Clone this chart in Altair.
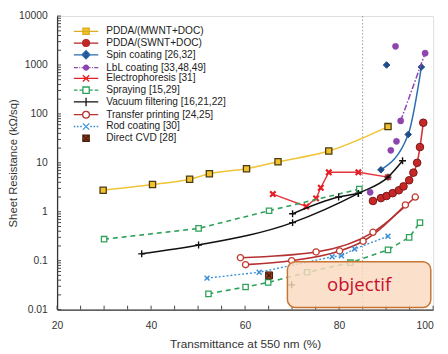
import altair as alt
import pandas as pd

# ---------------- data ----------------
series_names = [
    "PDDA/(MWNT+DOC)", "PDDA/(SWNT+DOC)", "Spin coating [26,32]",
    "LbL coating [33,48,49]", "Electrophoresis [31]", "Spraying [15,29]",
    "Vacuum filtering [16,21,22]", "Transfer printing [24,25]",
    "Rod coating [30]", "Direct CVD [28]",
]

mwnt_x = [29.8, 40.3, 48.2, 52.4, 60.3, 67.0, 77.8, 90.4]
mwnt_y = [2.75, 3.6, 4.6, 6.0, 7.6, 10.5, 17.4, 55]

swnt_x = [87.2, 88.9, 90.1, 91.4, 92.7, 93.7, 94.9, 95.8, 96.6, 97.2, 97.9]
swnt_y = [1.66, 1.9, 2.1, 2.4, 2.75, 3.3, 4.4, 6.3, 10, 21, 66]

spin_x = [88.9, 94.7, 97.5]
spin_y = [7.2, 38, 912]
spin_iso_x = [90.1]
spin_iso_y = [1000]

lbl_x = [93.1, 98.3]
lbl_y = [72, 1740]
lbl_iso_x = [92.0, 92.2, 91.0, 86.6]
lbl_iso_y = [2400, 27.5, 18, 2.5]

electro_x = [65.9, 73.0, 75.1, 76.1, 77.8, 84.1, 90.4]
electro_y = [2.3, 1.28, 1.88, 3.1, 6.4, 6.4, 5.1]

spray_a_x = [30.0, 50.1, 65.1, 84.3]
spray_a_y = [0.275, 0.457, 1.05, 2.9]
spray_b_x = [52.2, 60.1, 64.9, 73.2, 82.4, 90.4, 94.9, 97.2]
spray_b_y = [0.021, 0.029, 0.036, 0.058, 0.091, 0.166, 0.30, 0.60]

vac_a_x = [38.0, 50.1, 70.1, 84.1, 90.4, 93.5]
vac_a_y = [0.138, 0.209, 0.60, 2.37, 5.1, 11]
vac_b_x = [70.1, 79.9, 84.1]
vac_b_y = [0.91, 2.0, 2.37]
vac_iso_x = [69.9]
vac_iso_y = [0.032]

transfer_a_x = [59.0, 75.1, 87.2, 96.2]
transfer_a_y = [0.115, 0.151, 0.38, 2.0]
transfer_b_x = [60.1, 69.9, 80.1, 85.1, 94.1]
transfer_b_y = [0.083, 0.10, 0.158, 0.25, 1.38]

rod_x = [51.9, 63.0, 78.5, 80.5, 83.3, 90.4]
rod_y = [0.044, 0.058, 0.12, 0.126, 0.174, 0.316]

cvd_x = [65.1]
cvd_y = [0.050]

target_x = [85]
box_x = [69.0, 99.5]
box_y = [0.011, 0.095]
box_label = ["objectif"]

x_labels = [20, 40, 60, 80, 100]
y_labels = [0.01, 0.1, 1, 10, 100, 1000, 10000]
x_minor = [20, 25, 30, 35, 40, 45, 50, 55, 60, 65, 70, 75, 80, 85, 90, 95, 100]
y_minor = [m * 10.0 ** e for e in range(-2, 4) for m in range(1, 10)] + [10000]

# ---------------- table ----------------
rows = []
def add(name, group, linked, xs, ys):
    for a, b in zip(xs, ys):
        rows.append({"series": name, "group": group, "linked": linked, "x": a, "y": b})

add(series_names[0], "a", True, mwnt_x, mwnt_y)
add(series_names[1], "a", True, swnt_x, swnt_y)
add(series_names[2], "a", True, spin_x, spin_y)
add(series_names[2], "iso", False, spin_iso_x, spin_iso_y)
add(series_names[3], "a", True, lbl_x, lbl_y)
add(series_names[3], "iso", False, lbl_iso_x, lbl_iso_y)
add(series_names[4], "a", True, electro_x, electro_y)
add(series_names[5], "a", True, spray_a_x, spray_a_y)
add(series_names[5], "b", True, spray_b_x, spray_b_y)
add(series_names[6], "a", True, vac_a_x, vac_a_y)
add(series_names[6], "b", True, vac_b_x, vac_b_y)
add(series_names[6], "iso", False, vac_iso_x, vac_iso_y)
add(series_names[7], "a", True, transfer_a_x, transfer_a_y)
add(series_names[7], "b", True, transfer_b_x, transfer_b_y)
add(series_names[8], "a", True, rod_x, rod_y)
add(series_names[9], "iso", False, cvd_x, cvd_y)
df = pd.DataFrame(rows)

W, H = 383, 299
FONT = "Liberation Sans"

xscale = alt.Scale(domain=[20, 100], nice=False, zero=False)
yscale = alt.Scale(type="log", domain=[0.01, 10000], nice=False)
xaxis = alt.Axis(values=x_labels, title="Transmittance at 550 nm (%)", ticks=False, grid=False,
                 domainColor="#333", domainWidth=1.3, labelFont=FONT, labelFontSize=10.5,
                 labelColor="#333", labelPadding=11, titleFont=FONT, titleFontSize=12,
                 titleFontWeight="normal", titleColor="#333", titlePadding=8, labelFlush=False,
                 labelAlign=alt.ConditionalAxisLabelAlign(condition={"test": "datum.value >= 100", "value": "right"},
                                                          value="center"))
yaxis = alt.Axis(values=y_labels, title="Sheet Resistance (kΩ/sq)", ticks=False, grid=False,
                 domainColor="#333", domainWidth=1.3, labelFont=FONT, labelFontSize=10.5,
                 labelColor="#333", labelPadding=10, titleFont=FONT, titleFontSize=11.5,
                 titleFontWeight="normal", titleColor="#333", titleX=-39,
                 labelExpr="datum.value < 1 ? format(datum.value, '.2~f') : format(datum.value, 'd')",
                 labelFlush=False)

def X(f):
    return alt.X(f, type="quantitative", scale=xscale, axis=xaxis)

def Y(f):
    return alt.Y(f, type="quantitative", scale=yscale, axis=yaxis)

PLUS = "M-1,0H1M0,-1V1"
XSHAPE = "M-1,-1L1,1M-1,1L1,-1"

styles = {
    series_names[0]: dict(line=dict(stroke="#efc436", strokeWidth=1.6, interpolate="monotone"),
                          pt=dict(shape="square", size=40, fill="#f2c12e", stroke="#4a3a10", strokeWidth=1.3)),
    series_names[1]: dict(line=dict(stroke="#d63031", strokeWidth=1.6, interpolate="monotone"),
                          pt=dict(shape="circle", size=60, fill="#c62828", stroke="#7b1515", strokeWidth=1)),
    series_names[2]: dict(line=dict(stroke="#2d6bb0", strokeWidth=1.5, interpolate="monotone"),
                          pt=dict(shape="diamond", size=45, fill="#1f4e8c", stroke="#1f4e8c", strokeWidth=1)),
    series_names[3]: dict(line=dict(stroke="#8e44ad", strokeWidth=1.5, strokeDash=[6, 2, 1.5, 2]),
                          pt=dict(shape="circle", size=40, fill="#8e44ad", stroke="#8e44ad", strokeWidth=0.5)),
    series_names[4]: dict(line=dict(stroke="#e2343a", strokeWidth=1.4),
                          pt=dict(shape=XSHAPE, size=30, fill="transparent", stroke="#e41f26", strokeWidth=2.2)),
    series_names[5]: dict(line=dict(stroke="#2ea25a", strokeWidth=1.6, strokeDash=[5, 4]),
                          pt=dict(shape="square", size=30, fill="white", stroke="#2ea25a", strokeWidth=1.3)),
    series_names[6]: dict(line=dict(stroke="#111111", strokeWidth=1.5, interpolate="monotone"),
                          pt=dict(shape=PLUS, size=50, fill="transparent", stroke="#111111", strokeWidth=1.4)),
    series_names[7]: dict(line=dict(stroke="#b53030", strokeWidth=1.6, interpolate="monotone"),
                          pt=dict(shape="circle", size=40, fill="white", stroke="#c0392b", strokeWidth=1.3)),
    series_names[8]: dict(line=dict(stroke="#3b8fd8", strokeWidth=1.4, strokeDash=[2, 2]),
                          pt=dict(shape=XSHAPE, size=25, fill="transparent", stroke="#3b8fd8", strokeWidth=1.5)),
    series_names[9]: dict(line=None,
                          pt=dict(shape="square", size=50, fill="#a0401c", stroke="#3d1a0a", strokeWidth=1)),
}

layers = []

# inward minor ticks
layers.append(alt.Chart(pd.DataFrame({"v": y_minor})).mark_rule(stroke="#444", strokeWidth=1)
              .encode(y=Y("v"), x=alt.value(0), x2=alt.value(4)))
layers.append(alt.Chart(pd.DataFrame({"v": x_minor})).mark_rule(stroke="#444", strokeWidth=1)
              .encode(x=X("v"), y=alt.value(H), y2=alt.value(H - 4)))

# 85 % target line
layers.append(alt.Chart(pd.DataFrame({"x": target_x})).mark_rule(stroke="#9a9a9a", strokeWidth=1, strokeDash=[1.5, 2])
              .encode(x=X("x")))

for name in series_names:
    st = styles[name]
    sub = df[df.series == name]
    lsub = sub[sub.linked]
    if st["line"] is not None and len(lsub):
        layers.append(alt.Chart(lsub).mark_line(**st["line"]).encode(x=X("x"), y=Y("y"), detail="group:N"))
    layers.append(alt.Chart(sub).mark_point(filled=False, opacity=1, **st["pt"]).encode(x=X("x"), y=Y("y")))
    if name == series_names[9]:
        layers.append(alt.Chart(sub).mark_point(filled=False, opacity=1, shape=XSHAPE, size=20,
                                                stroke="#3d1a0a", strokeWidth=1.2)
                      .encode(x=X("x"), y=Y("y")))

# legend (custom symbol paths: line + marker), unit = sqrt(symbolSize)/2 px
L = "2.7"
seg = f"M-{L},0H{L}"
seg_open = f"M-{L},0H-0.72M0.72,0H{L}"
seg_dash = f"M-{L},0H-1.9M-1.45,0H-0.75M0.75,0H1.45M1.9,0H{L}"
seg_dashdot = f"M-{L},0H-1.8M-1.5,0H-1.3M-1.0,0H-0.7M0.7,0H1.0M1.3,0H1.5M1.8,0H{L}"
seg_dot = f"M-{L},0H-2.35M-2.0,0H-1.65M-1.3,0H-0.95M0.95,0H1.3M1.65,0H2.0M2.35,0H{L}"
sq = "M-0.7,-0.7H0.7V0.7H-0.7Z"
circ = "M-0.75,0A0.75,0.75 0 1,0 0.75,0A0.75,0.75 0 1,0 -0.75,0Z"
circ_s = "M-0.55,0A0.55,0.55 0 1,0 0.55,0A0.55,0.55 0 1,0 -0.55,0Z"
dia = "M0,-0.9L0.9,0L0,0.9L-0.9,0Z"
xs = "M-0.7,-0.7L0.7,0.7M-0.7,0.7L0.7,-0.7"
pl = "M0,-0.95V0.95M-0.95,0H0.95"
leg_shapes = [seg + sq, seg + circ, seg + dia, seg_dashdot + circ_s,
              seg + xs, seg_dash + sq, seg + pl, seg_open + circ, seg_dot + xs, sq + xs]
leg_fill = ["#f2c12e", "#c62828", "#1f4e8c", "#8e44ad", "transparent", "white",
            "transparent", "white", "transparent", "#a0401c"]
leg_stroke = ["#d9ae22", "#b82424", "#2d6bb0", "#8e44ad", "#e41f26", "#2ea25a",
              "#111111", "#b83232", "#3b8fd8", "#4a1c0c"]
leg = alt.Legend(title=None, orient="none", legendX=24, legendY=10, labelFont=FONT, labelFontSize=10.3,
                 labelColor="#222", symbolSize=85, symbolStrokeWidth=1.3, rowPadding=-3.2, labelOffset=15,
                 padding=0, symbolOpacity=1, labelLimit=250)
layers.append(alt.Chart(pd.DataFrame({"series": series_names})).mark_point(filled=True, opacity=1, clip=True)
              .encode(x=alt.value(-60), y=alt.value(-60),
                      shape=alt.Shape("series:N", scale=alt.Scale(domain=series_names, range=leg_shapes), legend=leg),
                      fill=alt.Fill("series:N", scale=alt.Scale(domain=series_names, range=leg_fill), legend=leg),
                      stroke=alt.Stroke("series:N", scale=alt.Scale(domain=series_names, range=leg_stroke), legend=leg)))

# objectif box
box_df = pd.DataFrame({"x0": [box_x[0]], "x1": [box_x[1]], "y0": [box_y[0]], "y1": [box_y[1]],
                       "tx": [(box_x[0] + box_x[1]) / 2], "ty": [(box_y[0] * box_y[1]) ** 0.5],
                       "label": box_label})
layers.append(alt.Chart(box_df).mark_rect(cornerRadius=8, fill="#fad9c0", fillOpacity=0.82,
                                          stroke="#c87533", strokeWidth=1.5)
              .encode(x=X("x0"), x2="x1", y=Y("y0"), y2="y1"))
layers.append(alt.Chart(box_df).mark_text(font="Open Sans", fontSize=19, color="#c8102e")
              .encode(x=X("tx"), y=Y("ty"), text="label:N"))

chart = (alt.layer(*layers)
         .properties(width=W, height=H, autosize=alt.AutoSizeParams(type="none"),
                     padding={"left": 50, "top": 5, "right": 7, "bottom": 41})
         .configure_view(stroke="#8a8a8a", strokeWidth=1)
         .configure(background="white"))

chart.save("out.html", embed_options={"renderer": "svg", "actions": False})
